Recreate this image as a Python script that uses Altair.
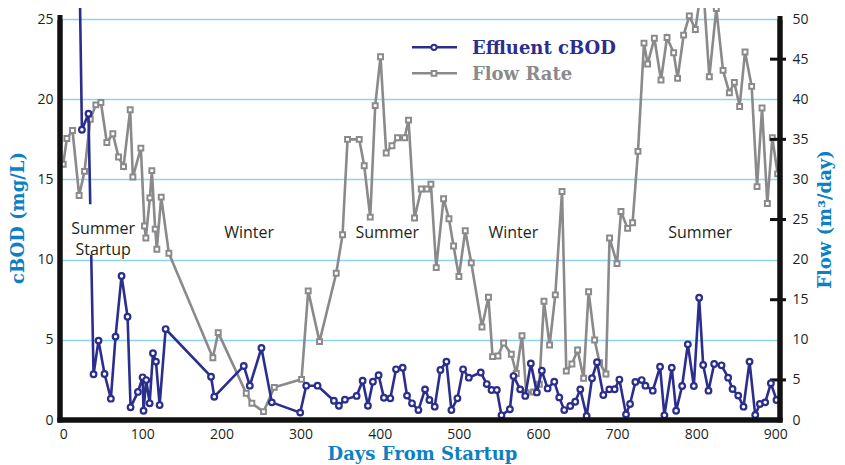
import altair as alt
import pandas as pd

# ---------------- data ----------------
cbod_days = [17, 23.7, 32, 38.4, 44.7, 52.3, 60.3, 66.2, 73.8, 81.4,
             85.2, 94.5, 100.4, 101.6, 105, 109.3, 113.5, 117.3, 121.9, 129.5,
             186.9, 191, 228.3, 235.9, 250.6, 263.7, 299.6, 307.2, 321.5, 342.2,
             348.5, 356.1, 370.9, 378.5, 385.2, 391.5, 398.7, 405.4, 413.5, 420.7,
             429.1, 434.6, 440.9, 449, 457.4, 462.9, 469.6, 476.8, 484.4, 490.7,
             498.3, 505.5, 512.7, 527.8, 535.4, 541.4, 548.1, 554, 564.6, 569.2,
             577.6, 584, 591.1, 598.7, 605, 612.3, 620.7, 627, 633.3, 640.9,
             647.2, 653.6, 661.6, 668.4, 674.7, 682.7, 690.3, 697, 703, 711.4,
             716.5, 723.2, 731.2, 735.9, 745.2, 754.4, 759.9, 769.2, 774.7, 782.3,
             789.5, 797.1, 803.8, 808.9, 815.6, 822.8, 832.1, 840.5, 846, 853.2,
             859.9, 867.5, 874.7, 880.6, 887.3, 894.5, 901.6]
cbod_vals = [40, 18.1, 19.1, 2.85, 4.95, 2.87, 1.33, 5.2, 8.98, 6.44,
             0.79, 1.75, 2.66, 0.58, 2.49, 1.04, 4.16, 3.64, 0.93, 5.67,
             2.7, 1.45, 3.37, 2.14, 4.49, 1.1, 0.46, 2.14, 2.14, 1.2,
             0.89, 1.27, 1.5, 2.45, 0.89, 2.39, 2.79, 1.39, 1.35, 3.16,
             3.26, 1.52, 1.04, 0.62, 1.91, 1.25, 0.83, 3.12, 3.64, 0.62,
             1.35, 3.16, 2.64, 2.96, 2.24, 1.87, 1.87, 0.29, 0.67, 2.74,
             1.91, 1.5, 3.53, 1.72, 3.07, 1.97, 2.39, 1.41, 0.62, 0.87,
             1.14, 1.91, 0.25, 2.6, 3.6, 1.56, 1.91, 1.92, 2.52, 0.35,
             1.0, 2.37, 2.49, 2.14, 1.83, 3.32, 0.29, 3.26, 0.58, 2.12,
             4.72, 2.12, 7.62, 3.43, 1.83, 3.49, 3.41, 2.64, 1.93, 1.52,
             0.83, 3.64, 0.31, 1.0, 1.1, 2.29, 1.25]

flow_days = [0, 4.7, 11.8, 20.2, 27, 34.2, 41.3, 47.7, 55.2, 62.8,
             70, 76.3, 84.7, 88.1, 98.2, 102.8, 104.5, 109.6, 112.1, 116.3,
             118.4, 123.9, 133.6, 189.2, 196, 231.4, 238.5, 253.2, 266.8, 301.3,
             309.7, 324, 345.1, 353.1, 359.4, 374.2, 380.5, 388.1, 394.4, 401.1,
             408.3, 415.5, 422.6, 431.5, 436.5, 444.1, 452.6, 459.7, 464.8, 471.5,
             480.8, 487.6, 493.4, 500.2, 508.2, 515.8, 529.3, 537.5, 542.7, 549.5,
             556.7, 566.4, 572.7, 579.9, 585.3, 594.6, 601.8, 607.7, 614.8, 622,
             630.5, 635.9, 643, 650.2, 657.8, 664.1, 671.7, 678, 686, 690.6,
             700, 705, 713.4, 719.7, 726.5, 734.1, 738.7, 747.2, 755.6, 763.2,
             771.6, 776.6, 784.2, 791.4, 799, 808.3, 816.7, 825.5, 834, 842,
             848.3, 855, 861.8, 870.2, 877, 883.3, 890, 896.3, 903]
flow_vals = [31.9, 35.1, 36.1, 28.0, 31.0, 37.5, 39.3, 39.6, 34.6, 35.7,
             32.8, 31.6, 38.7, 30.3, 33.9, 24.2, 22.7, 27.7, 31.1, 23.8,
             21.3, 27.8, 20.8, 7.77, 10.9, 3.33, 2.08, 1.04, 4.07, 5.07,
             16.1, 9.77, 18.3, 23.1, 35.0, 35.0, 31.7, 25.3, 39.2, 45.3,
             33.3, 34.2, 35.2, 35.2, 37.4, 25.2, 28.8, 28.8, 29.4, 19.0,
             27.6, 25.1, 21.7, 17.9, 23.6, 19.6, 11.6, 15.3, 7.9, 7.98,
             9.6, 8.2, 5.8, 10.5, 3.4, 3.5, 4.45, 14.8, 9.35, 15.6,
             28.5, 6.1, 6.98, 8.73, 5.2, 16.0, 9.98, 7.15, 5.74, 22.7,
             19.5, 26.0, 23.9, 24.6, 33.5, 47.0, 44.4, 47.6, 42.4, 47.7,
             45.8, 42.6, 48.0, 50.4, 48.7, 55.0, 42.8, 51.3, 43.6, 40.8,
             42.1, 39.1, 45.9, 41.6, 29.1, 38.9, 27.0, 35.2, 30.7]

x_ticks = [0, 100, 200, 300, 400, 500, 600, 700, 800, 900]
cbod_ticks = [0, 5, 10, 15, 20, 25]
flow_ticks = [0, 5, 10, 15, 20, 25, 30, 35, 40, 45, 50]
flow_major = [5, 15, 25, 35, 45]
x_range = [-4, 906]
cbod_range = [0, 25.69]
flow_range = [0, 51.38]

season_labels = ["Summer\nStartup", "Winter", "Summer", "Winter", "Summer"]
season_days = [50.6, 235, 409.6, 569, 805]
season_levels = [11.93, 11.66, 11.66, 11.66, 11.66]

legend_names = ["Effluent cBOD", "Flow Rate"]

# ---------------- styling ----------------
NAVY = "#2b2e8c"
GRAY = "#8a8a8c"
BLUE = "#0c80c4"
GRID = "#8bd5f3"
INK = "#231f20"
FRAME = "#111111"
SERIF = "DejaVu Serif"
SANS = "Open Sans"
W, H = 720, 412

cbod_df = pd.DataFrame({"day": cbod_days, "cbod": cbod_vals})
flow_df = pd.DataFrame({"day": flow_days, "flow": flow_vals})
tick_df = pd.DataFrame({"flow": flow_major})
ann_df = pd.DataFrame({"day": season_days, "cbod": season_levels, "label": season_labels})
mask_df = pd.DataFrame({"day": [6.3], "day2": [94.8], "cbod": [10.3], "cbod2": [13.45]})
vframe_df = pd.DataFrame({"day": x_range, "cbod": [cbod_range[0]] * 2, "cbod2": [24.95, 24.95]})
hframe_df = pd.DataFrame({"day": [x_range[0]], "day2": [x_range[1]], "cbod": [cbod_range[0]]})

XTITLE = "Days From Startup"
CTITLE = "cBOD (mg/L)"
FTITLE = "Flow (m³/day)"
xscale = alt.Scale(domain=x_range, nice=False, zero=False)
yc_scale = alt.Scale(domain=cbod_range, nice=False, zero=False)
yf_scale = alt.Scale(domain=flow_range, nice=False, zero=False)

x_axis = alt.Axis(values=x_ticks, grid=False, labelPadding=7, title=XTITLE,
                  titleX=362, titleY=39, titleAlign="center", titleBaseline="alphabetic")

c_axis = alt.Axis(orient="left", values=cbod_ticks, grid=True, gridColor=GRID, gridWidth=1.6,
                  labelPadding=7, title=CTITLE, titleX=-42, titleY=209.5, titleAngle=270,
                  titleAlign="center", titleBaseline="middle")

f_axis = alt.Axis(orient="right", values=flow_ticks, grid=False, labelPadding=12,
                  title=FTITLE, titleX=45, titleY=211, titleAngle=270,
                  titleAlign="center", titleBaseline="middle")

X = alt.X("day:Q", scale=xscale, axis=x_axis, title=XTITLE)
YF = alt.Y("flow:Q", scale=yf_scale, axis=f_axis, title=FTITLE)
YC = alt.Y("cbod:Q", scale=yc_scale, axis=c_axis, title=CTITLE)

# ---------------- flow layer ----------------
flow_line = alt.Chart(flow_df).mark_line(color=GRAY, strokeWidth=2.6, clip=True).encode(x=X, y=YF)
flow_pts = alt.Chart(flow_df).mark_point(shape="square", filled=True, fill="white", stroke=GRAY,
                                         strokeWidth=2, size=24, opacity=1, clip=True).encode(x=X, y=YF)
flow_tk = alt.Chart(tick_df).mark_tick(orient="horizontal", color=FRAME, thickness=3, size=16,
                                       opacity=1).encode(x=alt.value(W - 2), y=YF)
flow_layer = alt.layer(flow_line, flow_pts, flow_tk)

# ---------------- cBOD layer ----------------
cbod_line = alt.Chart(cbod_df).mark_line(color=NAVY, strokeWidth=2.6, clip=True).encode(x=X, y=YC)
cbod_pts = alt.Chart(cbod_df).mark_point(shape="circle", filled=True, fill="white", stroke=NAVY,
                                         strokeWidth=2.2, size=32, opacity=1, clip=True).encode(x=X, y=YC)
mask = alt.Chart(mask_df).mark_rect(color="white").encode(x=X, x2="day2:Q", y=YC, y2="cbod2:Q")
ann = alt.Chart(ann_df).mark_text(font=SANS, fontSize=16, color=INK, lineBreak="\n",
                                  lineHeight=21, baseline="middle", align="center").encode(
    x=X, y=YC, text="label:N")
vframe = alt.Chart(vframe_df).mark_rule(color=FRAME, strokeWidth=5, opacity=1).encode(
    x=X, y=YC, y2="cbod2:Q")
hframe = alt.Chart(hframe_df).mark_rule(color=FRAME, strokeWidth=5, opacity=1,
                                        strokeCap="square").encode(x=X, x2="day2:Q", y=YC)
cbod_layer = alt.layer(cbod_line, cbod_pts, mask, ann, vframe, hframe)

# ---------------- filled frame bars (axis lines drawn as rectangles) ----------------
fsrc = pd.DataFrame({"k": [0]})
left_bar = alt.Chart(fsrc).mark_rect(color=FRAME, opacity=1).encode(
    x=alt.value(-2.5), x2=alt.value(2.5), y=alt.value(7), y2=alt.value(H + 2.5))
right_bar = alt.Chart(fsrc).mark_rect(color=FRAME, opacity=1).encode(
    x=alt.value(W - 2.5), x2=alt.value(W + 2.5), y=alt.value(8), y2=alt.value(H + 2.5))
bottom_bar = alt.Chart(fsrc).mark_rect(color=FRAME, opacity=1).encode(
    x=alt.value(-2.5), x2=alt.value(W + 2.5), y=alt.value(H - 2.5), y2=alt.value(H + 2.5))

# ---------------- legend ----------------
def legend_entry(i, color, shape, ypix, ytext):
    d = pd.DataFrame({"label": [legend_names[i]]})
    rule = alt.Chart(d).mark_rule(color=color, strokeWidth=2.6).encode(
        x=alt.value(352), x2=alt.value(397), y=alt.value(ypix))
    pt = alt.Chart(d).mark_point(shape=shape, filled=True, fill="white", stroke=color,
                                 strokeWidth=2, size=28 if shape == "circle" else 22,
                                 opacity=1).encode(x=alt.value(374), y=alt.value(ypix))
    txt = alt.Chart(d).mark_text(font=SERIF, fontSize=18, fontWeight="bold", color=color,
                                 align="left", baseline="alphabetic").encode(
        x=alt.value(412), y=alt.value(ytext), text="label:N")
    return [rule, pt, txt]

legend_parts = (legend_entry(0, NAVY, "circle", 39.3, 45.5)
                + legend_entry(1, GRAY, "square", 65.3, 71.5))

chart = alt.layer(flow_layer, cbod_layer, *legend_parts, left_bar, right_bar, bottom_bar).resolve_scale(
    y="independent"
).properties(
    width=W, height=H,
    autosize=alt.AutoSizeParams(type="none"),
    padding={"left": 52, "top": 0, "right": 57, "bottom": 47},
    background="white",
).configure_view(
    strokeWidth=0
).configure_axis(
    domain=False, ticks=False, grid=False, labelFont=SANS, labelFontSize=14, labelColor=INK,
    titleFont=SERIF, titleFontSize=18, titleFontWeight="bold", titleColor=BLUE,
)

chart.save("out.html", embed_options={"renderer": "svg", "actions": False})
